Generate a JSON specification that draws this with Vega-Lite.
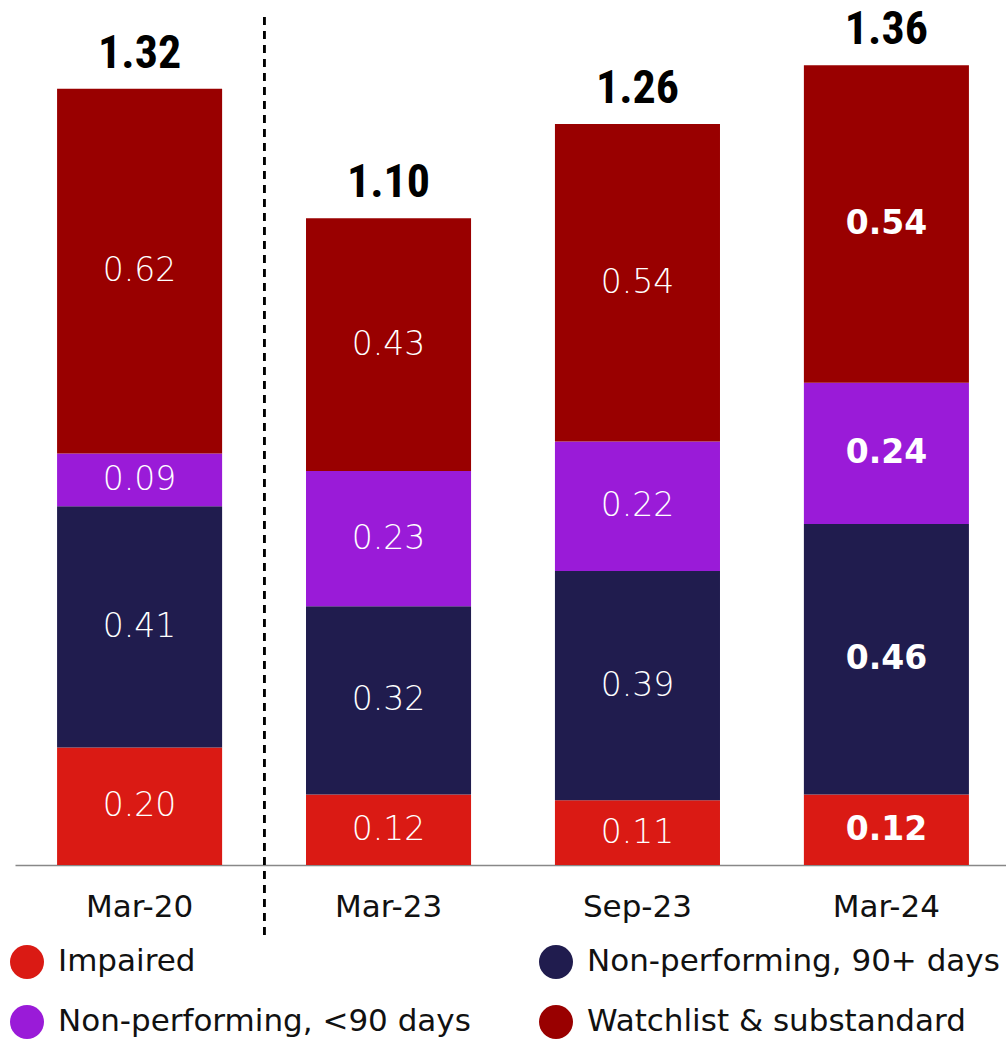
{
  "$schema": "https://vega.github.io/schema/vega-lite/v6.json",
  "autosize": {"type": "none"},
  "padding": {"left": 15, "top": 0, "right": -5, "bottom": 175},
  "width": 996,
  "height": 865,
  "background": "white",
  "config": {
    "view": {"stroke": null},
    "font": "DejaVu Sans"
  },
  "data": {
    "values": [
      {"period": "Mar-20", "category": "Impaired", "k": 1, "value": 0.20},
      {"period": "Mar-20", "category": "Non-performing, 90+ days", "k": 2, "value": 0.41},
      {"period": "Mar-20", "category": "Non-performing, <90 days", "k": 3, "value": 0.09},
      {"period": "Mar-20", "category": "Watchlist & substandard", "k": 4, "value": 0.62},
      {"period": "Mar-23", "category": "Impaired", "k": 1, "value": 0.12},
      {"period": "Mar-23", "category": "Non-performing, 90+ days", "k": 2, "value": 0.32},
      {"period": "Mar-23", "category": "Non-performing, <90 days", "k": 3, "value": 0.23},
      {"period": "Mar-23", "category": "Watchlist & substandard", "k": 4, "value": 0.43},
      {"period": "Sep-23", "category": "Impaired", "k": 1, "value": 0.11},
      {"period": "Sep-23", "category": "Non-performing, 90+ days", "k": 2, "value": 0.39},
      {"period": "Sep-23", "category": "Non-performing, <90 days", "k": 3, "value": 0.22},
      {"period": "Sep-23", "category": "Watchlist & substandard", "k": 4, "value": 0.54},
      {"period": "Mar-24", "category": "Impaired", "k": 1, "value": 0.12},
      {"period": "Mar-24", "category": "Non-performing, 90+ days", "k": 2, "value": 0.46},
      {"period": "Mar-24", "category": "Non-performing, <90 days", "k": 3, "value": 0.24},
      {"period": "Mar-24", "category": "Watchlist & substandard", "k": 4, "value": 0.54}
    ]
  },
  "encoding": {
    "x": {
      "field": "period",
      "type": "nominal",
      "sort": ["Mar-20", "Mar-23", "Sep-23", "Mar-24"],
      "scale": {"paddingInner": 0.337, "paddingOuter": 0.169},
      "axis": {
        "title": null,
        "ticks": false,
        "labelAngle": 0,
        "labelFont": "DejaVu Sans",
        "labelFontSize": 31,
        "labelColor": "#111111",
        "labelBaseline": "middle",
        "labelPadding": 42,
        "domainColor": "#888888",
        "domainWidth": 1.5
      }
    }
  },
  "layer": [
    {
      "mark": {"type": "bar"},
      "encoding": {
        "y": {
          "field": "value",
          "type": "quantitative",
          "stack": "zero",
          "scale": {"domain": [0, 1.471], "nice": false},
          "axis": null
        },
        "order": {"field": "k", "type": "ordinal"},
        "color": {
          "field": "category",
          "type": "nominal",
          "scale": {
            "domain": ["Impaired", "Non-performing, 90+ days", "Non-performing, <90 days", "Watchlist & substandard"],
            "range": ["#da1a14", "#201c4e", "#9a1bd8", "#990000"]
          },
          "legend": {
            "title": null,
            "orient": "none",
            "legendX": -5,
            "legendY": 945,
            "direction": "horizontal",
            "columns": 2,
            "padding": 0,
            "columnPadding": 68,
            "rowPadding": 26,
            "symbolType": "circle",
            "symbolSize": 1156,
            "symbolStrokeWidth": 0,
            "labelFont": "DejaVu Sans",
            "labelFontSize": 31,
            "labelColor": "#111111",
            "labelOffset": 14,
            "labelLimit": 600
          }
        }
      }
    },
    {
      "transform": [{"filter": "datum.period !== 'Mar-24'"}],
      "mark": {"type": "text", "color": "white", "font": "DejaVu Sans", "fontSize": 33, "fontWeight": 200, "baseline": "middle"},
      "encoding": {
        "y": {"field": "value", "type": "quantitative", "stack": "zero", "bandPosition": 0.5},
        "order": {"field": "k", "type": "ordinal"},
        "text": {"field": "value", "type": "quantitative", "format": ".2f"}
      }
    },
    {
      "transform": [{"filter": "datum.period === 'Mar-24'"}],
      "mark": {"type": "text", "color": "white", "font": "DejaVu Sans", "fontSize": 33, "fontWeight": "bold", "baseline": "middle"},
      "encoding": {
        "y": {"field": "value", "type": "quantitative", "stack": "zero", "bandPosition": 0.5},
        "order": {"field": "k", "type": "ordinal"},
        "text": {"field": "value", "type": "quantitative", "format": ".2f"}
      }
    },
    {
      "mark": {"type": "text", "color": "black", "fontSize": 46, "fontWeight": "bold", "font": "Roboto Condensed, Liberation Sans Narrow, DejaVu Sans Condensed", "baseline": "alphabetic", "dy": -21},
      "encoding": {
        "y": {"aggregate": "sum", "field": "value", "type": "quantitative"},
        "text": {"aggregate": "sum", "field": "value", "type": "quantitative", "format": ".2f"}
      }
    },
    {
      "mark": {"type": "rule", "color": "black", "strokeWidth": 2, "strokeDash": [8, 6]},
      "encoding": {
        "x": {"datum": "Mar-20", "bandPosition": 1.2545},
        "y": {"datum": 1.442},
        "y2": {"datum": -0.119}
      }
    }
  ]
}
